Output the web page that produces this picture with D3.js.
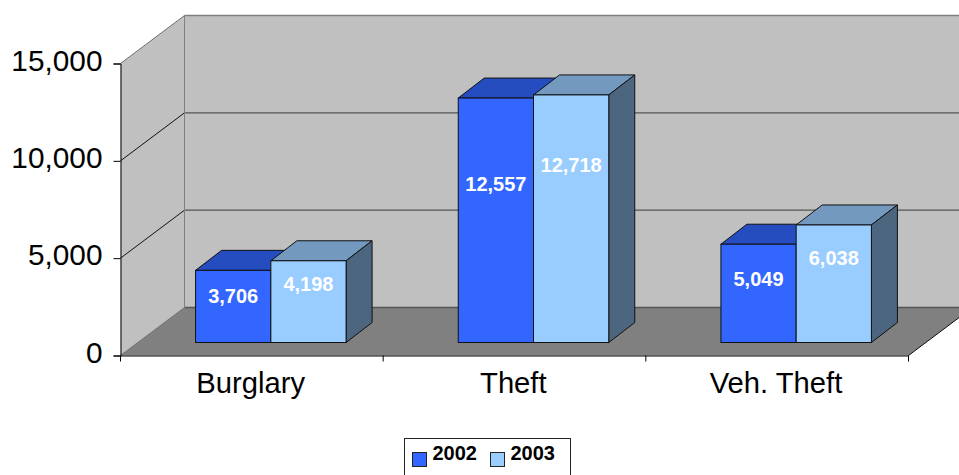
<!DOCTYPE html>
<html>
<head>
<meta charset="utf-8">
<script src="https://d3js.org/d3.v7.min.js"></script>
<style>
  html, body { margin: 0; padding: 0; background: #fff; overflow: hidden; }
  svg { display: block; }
  text { font-family: "Liberation Sans", Arial, sans-serif; }
</style>
</head>
<body>
<div id="chart"></div>
<script>
// Chart values
const categories = ['Burglary', 'Theft', 'Veh. Theft'];
const seriesNames = ['2002', '2003'];
const values2002 = [3706, 12557, 5049];
const values2003 = [4198, 12718, 6038];
const yTicks = [0, 5000, 10000, 15000];

const width = 959;
const height = 475;

const svg = d3.select('#chart')
  .append('svg')
  .attr('width', width)
  .attr('height', height);

// Scales on the front plane of the box
const xScale = d3.scaleBand()
  .domain(categories)
  .range([120.5, 908.5]);

const yScale = d3.scaleLinear()
  .domain([0, 15000])
  .range([355.5, 63.5]);

const seriesScale = d3.scaleBand()
  .domain(seriesNames)
  .range([0, 150.5]);

// 3D offsets
const depthX = 64;
const depthY = -48;
const barDepthX = 26;
const barDepthY = -20;
const barShiftX = 19;
const barShiftY = -13;

const x0 = xScale.range()[0];
const x1 = xScale.range()[1];
const y0 = yScale(0);
const yTop = yScale(15000);

const poly = pts => pts.map(p => p.join(',')).join(' ');

// Back wall, left wall and floor
svg.append('polygon')
  .attr('points', poly([[x0 + depthX, yTop + depthY], [x1 + depthX, yTop + depthY], [x1 + depthX, y0 + depthY], [x0 + depthX, y0 + depthY]]))
  .style('fill', '#c0c0c0');

svg.append('polygon')
  .attr('points', poly([[x0, yTop], [x0 + depthX, yTop + depthY], [x0 + depthX, y0 + depthY], [x0, y0]]))
  .style('fill', '#c0c0c0');

svg.append('polygon')
  .attr('points', poly([[x0, y0], [x0 + depthX, y0 + depthY], [x1 + depthX, y0 + depthY], [x1, y0]]))
  .style('fill', '#808080');

// Gridlines on both walls
yTicks.forEach(t => {
  const y = yScale(t);
  const isEdge = t === 15000 || t === 0;
  svg.append('line')
    .attr('x1', x0).attr('y1', y)
    .attr('x2', x0 + depthX).attr('y2', y + depthY)
    .style('stroke', isEdge ? '#707070' : '#111')
    .style('stroke-width', 1);
  svg.append('line')
    .attr('x1', x0 + depthX).attr('y1', y + depthY)
    .attr('x2', x1 + depthX).attr('y2', y + depthY)
    .style('stroke', t === 15000 ? '#808080' : '#555')
    .style('stroke-width', 1.3);
});

svg.append('line')
  .attr('x1', x0 + depthX).attr('y1', yTop + depthY)
  .attr('x2', x0 + depthX).attr('y2', y0 + depthY)
  .style('stroke', '#808080')
  .style('stroke-width', 1);

// Floor right edge
svg.append('line')
  .attr('x1', x1).attr('y1', y0)
  .attr('x2', x1 + depthX).attr('y2', y0 + depthY)
  .style('stroke', '#111')
  .style('stroke-width', 1);

// Axes
const yAxis = svg.append('g')
  .attr('transform', `translate(${x0},0)`)
  .call(d3.axisLeft(yScale).tickValues(yTicks).tickFormat(d3.format(',')).tickSize(7).tickPadding(11));

yAxis.selectAll('text')
  .attr('dy', '0.22em')
  .style('fill', '#000')
  .style('font-size', '29.8px');

const xAxis = svg.append('g')
  .attr('transform', `translate(0,${y0})`)
  .call(d3.axisBottom(xScale).tickSize(0).tickPadding(17));

xAxis.selectAll('text')
  .attr('dx', '-1.2')
  .attr('dy', '0.71em')
  .style('fill', '#000')
  .style('font-size', '29.2px');

// Category separators on the x axis
xAxis.selectAll('.sep')
  .data([...categories.map(c => xScale(c)), x1])
  .enter()
  .append('line')
  .attr('class', 'sep')
  .attr('x1', d => d).attr('x2', d => d)
  .attr('y1', 0).attr('y2', 6)
  .style('stroke', '#000');

[yAxis, xAxis].forEach(a => a.selectAll('path, .tick line').style('stroke', '#000'));

// Bars: 2002 first so that 2003 overlaps its top
const seriesStyles = [
  { name: '2002', values: values2002, front: '#3366ff', top: '#264dbf', side: '#264dbf', labelAt: 0.65 },
  { name: '2003', values: values2003, front: '#99ccff', top: '#7399bf', side: '#4d6680', labelAt: 0.715 }
];

seriesStyles.forEach(s => {
  const g = svg.append('g').attr('class', 'series-' + s.name);
  const bars = g.selectAll('g')
    .data(categories.map((c, i) => ({ cat: c, value: s.values[i] })))
    .enter()
    .append('g');

  const left = d => xScale(d.cat) + (xScale.bandwidth() - seriesScale.range()[1]) / 2 + barShiftX + seriesScale(s.name);
  const right = d => left(d) + seriesScale.bandwidth();
  const base = y0 + barShiftY;
  const top = d => yScale(d.value) + barShiftY;

  bars.append('polygon')
    .attr('points', d => poly([[left(d), top(d)], [left(d) + barDepthX, top(d) + barDepthY], [right(d) + barDepthX, top(d) + barDepthY], [right(d), top(d)]]))
    .style('fill', s.top)
    .style('stroke', '#111')
    .style('stroke-linejoin', 'round');

  bars.append('polygon')
    .attr('points', d => poly([[right(d), top(d)], [right(d) + barDepthX, top(d) + barDepthY], [right(d) + barDepthX, base + barDepthY], [right(d), base]]))
    .style('fill', s.side)
    .style('stroke', '#111')
    .style('stroke-linejoin', 'round');

  bars.append('rect')
    .attr('x', left)
    .attr('y', top)
    .attr('width', seriesScale.bandwidth())
    .attr('height', d => base - top(d))
    .style('fill', s.front)
    .style('stroke', '#111');

  s.labelFn = d => base - (base - top(d)) * s.labelAt;
  s.labelData = bars.data();
  s.leftFn = left;
});

// Labels go on last, 12,557 sits close to the neighbouring bar
seriesStyles.forEach(s => {
  svg.append('g').selectAll('text')
    .data(s.labelData)
    .enter()
    .append('text')
    .attr('x', d => s.leftFn(d) + seriesScale.bandwidth() / 2)
    .attr('y', s.labelFn)
    .attr('dy', '0.35em')
    .style('text-anchor', 'middle')
    .style('fill', '#fff')
    .style('font-weight', 'bold')
    .style('font-size', '20px')
    .text(d => d3.format(',')(d.value));
});

// Legend
const legend = svg.append('g');

legend.append('rect')
  .attr('x', 404.5).attr('y', 438.5)
  .attr('width', 166).attr('height', 50)
  .style('fill', '#fff')
  .style('stroke', '#222')
  .style('stroke-width', 1);

const legendX = d3.scalePoint().domain(seriesNames).range([412.5, 490.5]);

seriesStyles.forEach(s => {
  legend.append('rect')
    .attr('x', legendX(s.name)).attr('y', 452.5)
    .attr('width', 14).attr('height', 14)
    .style('fill', s.front)
    .style('stroke', '#222');

  legend.append('text')
    .attr('x', legendX(s.name) + 20)
    .attr('y', 460)
    .style('fill', '#000')
    .style('font-weight', 'bold')
    .style('font-size', '20px')
    .text(s.name);
});
</script>
</body>
</html>
